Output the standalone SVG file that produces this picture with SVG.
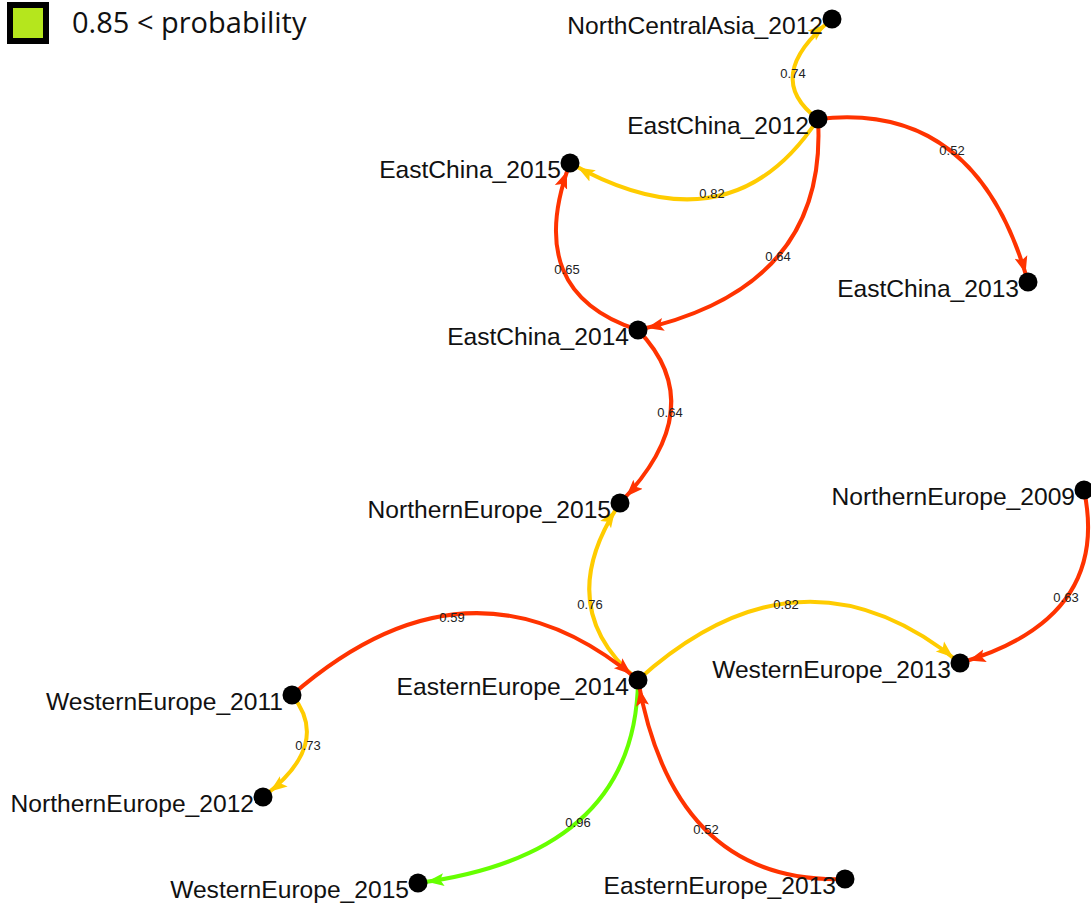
<svg xmlns="http://www.w3.org/2000/svg" width="1091" height="909" viewBox="0 0 1091 909">
<style>
.e{fill:none;stroke-width:4}
.y{stroke:#FFCC00}
.r{stroke:#FF3300}
.g{stroke:#66FF00}
.n{fill:#000}
.nl{font-family:"Liberation Sans",Arial,sans-serif;font-size:24.6px;fill:#111;text-anchor:end}
.el{font-family:"Liberation Sans",Arial,sans-serif;font-size:13px;fill:#222;text-anchor:middle}
</style>
<defs>
<marker id="ay" markerUnits="userSpaceOnUse" viewBox="0 0 28 16" markerWidth="28" markerHeight="16" refX="26" refY="8" orient="auto"><path d="M0,1.5 L17,8 L0,14.5 L3.5,8 z" fill="#FFCC00"/></marker>
<marker id="ar" markerUnits="userSpaceOnUse" viewBox="0 0 28 16" markerWidth="28" markerHeight="16" refX="26" refY="8" orient="auto"><path d="M0,1.5 L17,8 L0,14.5 L3.5,8 z" fill="#FF3300"/></marker>
<marker id="ag" markerUnits="userSpaceOnUse" viewBox="0 0 28 16" markerWidth="28" markerHeight="16" refX="26" refY="8" orient="auto"><path d="M0,1.5 L17,8 L0,14.5 L3.5,8 z" fill="#66FF00"/></marker>
</defs>
<g id="legend">
<rect x="10" y="5" width="36" height="36" fill="#B5E61D" stroke="#000" stroke-width="6"/>
<text x="72" y="33" font-family="'Open Sans',sans-serif" font-size="29" fill="#111">0.85 &lt; probability</text>
</g>
<g id="connectors">
<path class="e y" d="M818,119 Q761,77 832,19" marker-end="url(#ay)"/>
<path class="e y" d="M818,119 Q730,253.5 570,163" marker-end="url(#ay)"/>
<path class="e r" d="M818,119 Q977,100 1028,282" marker-end="url(#ar)"/>
<path class="e r" d="M818,119 Q828,288 638,330" marker-end="url(#ar)"/>
<path class="e r" d="M638,330 Q522,292.5 570,163" marker-end="url(#ar)"/>
<path class="e r" d="M638,330 Q712.5,407 620,503" marker-end="url(#ar)"/>
<path class="e y" d="M638,680 Q550.5,607.5 620,503" marker-end="url(#ay)"/>
<path class="e r" d="M292,695 Q471,539 638,680" marker-end="url(#ar)"/>
<path class="e y" d="M638,680 Q801.5,532.5 960,663" marker-end="url(#ay)"/>
<path class="e r" d="M1084,490 Q1111,619 960,663" marker-end="url(#ar)"/>
<path class="e y" d="M292,695 Q332.5,744.5 263,797" marker-end="url(#ay)"/>
<path class="e g" d="M638,680 Q636,854.5 418,883" marker-end="url(#ag)"/>
<path class="e r" d="M845,879 Q674,884.5 638,680" marker-end="url(#ar)"/>
<text class="el" x="793" y="78">0.74</text>
<text class="el" x="712" y="198">0.82</text>
<text class="el" x="952" y="155">0.52</text>
<text class="el" x="778" y="261">0.64</text>
<text class="el" x="567" y="274">0.65</text>
<text class="el" x="670" y="417">0.64</text>
<text class="el" x="590" y="609">0.76</text>
<text class="el" x="452" y="622">0.59</text>
<text class="el" x="786" y="609">0.82</text>
<text class="el" x="1066" y="602">0.63</text>
<text class="el" x="308" y="750">0.73</text>
<text class="el" x="578" y="827">0.96</text>
<text class="el" x="706" y="834">0.52</text>
</g>
<g id="NorthCentralAsia_2012"><circle class="n" cx="832" cy="19" r="9.5"/><text class="nl" x="823" y="34">NorthCentralAsia_2012</text></g>
<g id="EastChina_2012"><circle class="n" cx="818" cy="119" r="9.5"/><text class="nl" x="809" y="134">EastChina_2012</text></g>
<g id="EastChina_2015"><circle class="n" cx="570" cy="163" r="9.5"/><text class="nl" x="561" y="178">EastChina_2015</text></g>
<g id="EastChina_2013"><circle class="n" cx="1028" cy="282" r="9.5"/><text class="nl" x="1019" y="297">EastChina_2013</text></g>
<g id="EastChina_2014"><circle class="n" cx="638" cy="330" r="9.5"/><text class="nl" x="629" y="345">EastChina_2014</text></g>
<g id="NorthernEurope_2015"><circle class="n" cx="620" cy="503" r="9.5"/><text class="nl" x="611" y="518">NorthernEurope_2015</text></g>
<g id="NorthernEurope_2009"><circle class="n" cx="1084" cy="490" r="9.5"/><text class="nl" x="1075" y="505">NorthernEurope_2009</text></g>
<g id="WesternEurope_2013"><circle class="n" cx="960" cy="663" r="9.5"/><text class="nl" x="951" y="678">WesternEurope_2013</text></g>
<g id="EasternEurope_2014"><circle class="n" cx="638" cy="680" r="9.5"/><text class="nl" x="629" y="695">EasternEurope_2014</text></g>
<g id="WesternEurope_2011"><circle class="n" cx="292" cy="695" r="9.5"/><text class="nl" x="283" y="710">WesternEurope_2011</text></g>
<g id="NorthernEurope_2012"><circle class="n" cx="263" cy="797" r="9.5"/><text class="nl" x="254" y="812">NorthernEurope_2012</text></g>
<g id="WesternEurope_2015"><circle class="n" cx="418" cy="883" r="9.5"/><text class="nl" x="409" y="898">WesternEurope_2015</text></g>
<g id="EasternEurope_2013"><circle class="n" cx="845" cy="879" r="9.5"/><text class="nl" x="836" y="894">EasternEurope_2013</text></g>
</svg>
